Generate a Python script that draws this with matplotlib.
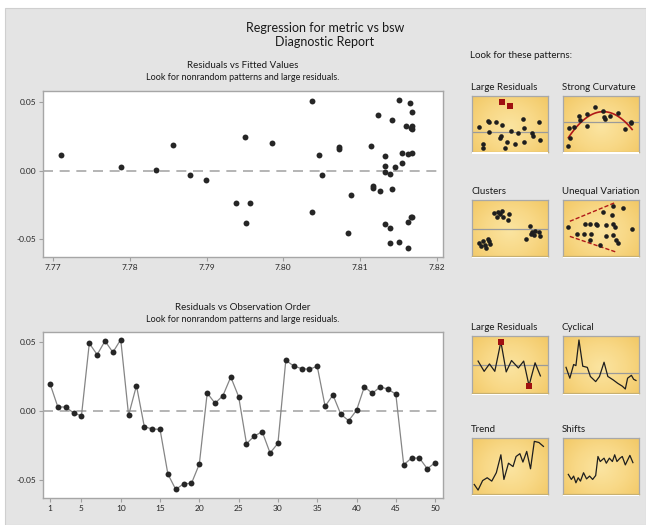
import numpy as np
import matplotlib
matplotlib.use("Agg")
import matplotlib.pyplot as plt
from matplotlib.colors import LinearSegmentedColormap
from matplotlib.patches import Rectangle

plt.rcParams['font.family'] = ['Lato', 'DejaVu Sans']

# ---- residuals in observation order ----
order = list(range(1, 51))
residuals = [0.0198, 0.0029, 0.0029, -0.0014, -0.0036, 0.0490, 0.0408, 0.0507, 0.0425, 0.0517,
             -0.0031, 0.0184, -0.0114, -0.0130, -0.0133, -0.0457, -0.0568, -0.0527, -0.0524, -0.0384,
             0.0130, 0.0056, 0.0111, 0.0246, 0.0104, -0.0237, -0.0181, -0.0150, -0.0304, -0.0234,
             0.0367, 0.0326, 0.0307, 0.0302, 0.0324, 0.0034, 0.0116, -0.0024, -0.0070, 0.0005,
             0.0176, 0.0128, 0.0174, 0.0159, 0.0121, -0.0389, -0.0341, -0.0341, -0.0418, -0.0374]
fitted = [7.7985, 7.7788, 7.8145, 7.8132, 7.7878, 7.8165, 7.8123, 7.8038, 7.8167, 7.8151,
          7.8051, 7.7856, 7.8117, 7.8117, 7.8141, 7.8084, 7.8163, 7.8139, 7.8151, 7.7951,
          7.8167, 7.8155, 7.7711, 7.7950, 7.8132, 7.7938, 7.8088, 7.8126, 7.8038, 7.7957,
          7.8141, 7.8160, 7.8166, 7.8168, 7.8167, 7.8132, 7.8047, 7.8139, 7.7899, 7.7834,
          7.8114, 7.8155, 7.8072, 7.8072, 7.8163, 7.8132, 7.8167, 7.8166, 7.8139, 7.8163]

fit_ticks = [7.77, 7.78, 7.79, 7.80, 7.81, 7.82]
fit_labels = ["7.77", "7.78", "7.79", "7.80", "7.81", "7.82"]
res_ticks = [-0.05, 0.0, 0.05]
res_labels = ["-0.05", "0.00", "0.05"]
order_ticks = [1, 5, 10, 15, 20, 25, 30, 35, 40, 45, 50]

# ---- example pattern thumbnails (unit coordinates) ----
lr_x = [0.09, 0.21, 0.23, 0.31, 0.40, 0.67, 0.88, 0.23, 0.51, 0.61, 0.68, 0.79, 0.80, 0.38, 0.37,
        0.15, 0.15, 0.46, 0.44, 0.56, 0.68, 0.90]
lr_y = [0.44, 0.56, 0.53, 0.53, 0.48, 0.59, 0.53, 0.35, 0.37, 0.34, 0.42, 0.34, 0.28, 0.29, 0.25,
        0.15, 0.07, 0.17, 0.07, 0.15, 0.17, 0.22]
lr_out_x = [0.39, 0.50]
lr_out_y = [0.89, 0.83]

sc_x = [0.07, 0.09, 0.08, 0.14, 0.21, 0.23, 0.31, 0.32, 0.42, 0.52, 0.54, 0.55, 0.62, 0.72, 0.82,
        0.89, 0.90]
sc_y = [0.11, 0.25, 0.43, 0.44, 0.65, 0.57, 0.67, 0.46, 0.80, 0.74, 0.63, 0.59, 0.65, 0.70, 0.41,
        0.54, 0.51]
sc_curve = (-2.2, 0.53, 0.72)   # a*(u-h)^2 + k

cl_x = [0.29, 0.34, 0.39, 0.33, 0.41, 0.49, 0.48, 0.37,
        0.09, 0.14, 0.17, 0.21, 0.24, 0.12, 0.19, 0.22,
        0.76, 0.79, 0.83, 0.88, 0.81, 0.89, 0.71, 0.77]
cl_y = [0.76, 0.79, 0.80, 0.70, 0.70, 0.75, 0.65, 0.75,
        0.24, 0.26, 0.20, 0.30, 0.21, 0.18, 0.15, 0.26,
        0.53, 0.42, 0.45, 0.42, 0.37, 0.36, 0.30, 0.39]

uv_x = [0.07, 0.18, 0.27, 0.29, 0.36, 0.37, 0.44, 0.45, 0.56, 0.56, 0.52, 0.64, 0.66, 0.66, 0.68,
        0.70, 0.72, 0.79, 0.91, 0.49, 0.36, 0.66]
uv_y = [0.51, 0.40, 0.40, 0.57, 0.57, 0.40, 0.58, 0.55, 0.55, 0.35, 0.79, 0.73, 0.58, 0.38, 0.52,
        0.29, 0.23, 0.85, 0.49, 0.20, 0.29, 0.90]
uv_upper = ([0.09, 0.68], [0.62, 0.95])
uv_lower = ([0.09, 0.70], [0.35, 0.07])

ts_lr_x = [0.08, 0.16, 0.23, 0.30, 0.38, 0.45, 0.52, 0.61, 0.68, 0.75, 0.83, 0.90]
ts_lr_y = [0.56, 0.38, 0.51, 0.38, 0.90, 0.37, 0.57, 0.44, 0.56, 0.13, 0.53, 0.30]
ts_lr_flag = [4, 9]

cy_x = [0.04, 0.09, 0.14, 0.17, 0.21, 0.26, 0.32, 0.36, 0.43, 0.48, 0.54, 0.59, 0.66, 0.72, 0.78,
        0.82, 0.85, 0.90, 0.93, 0.96]
cy_y = [0.45, 0.26, 0.50, 0.48, 0.93, 0.47, 0.45, 0.29, 0.20, 0.29, 0.54, 0.29, 0.23, 0.17, 0.12,
        0.07, 0.26, 0.31, 0.24, 0.22]

tr_x = [0.03, 0.08, 0.14, 0.20, 0.26, 0.32, 0.38, 0.42, 0.48, 0.54, 0.58, 0.63, 0.67, 0.72, 0.77,
        0.82, 0.88, 0.94]
tr_y = [0.17, 0.07, 0.24, 0.29, 0.23, 0.38, 0.70, 0.26, 0.55, 0.49, 0.67, 0.72, 0.57, 0.76, 0.45,
        0.94, 0.92, 0.85]

sh_x = [0.07, 0.11, 0.14, 0.17, 0.20, 0.23, 0.27, 0.31, 0.35, 0.39, 0.43, 0.46, 0.49, 0.54, 0.57,
        0.61, 0.65, 0.68, 0.71, 0.75, 0.78, 0.82, 0.88, 0.92]
sh_y = [0.35, 0.26, 0.32, 0.20, 0.29, 0.23, 0.38, 0.27, 0.32, 0.26, 0.33, 0.67, 0.58, 0.64, 0.55,
        0.64, 0.58, 0.70, 0.58, 0.64, 0.67, 0.52, 0.69, 0.56]

# ---- figure layout in pixels ----
W, H = 646, 525
fig = plt.figure(figsize=(W / 100, H / 100), dpi=100, facecolor="white")
PANEL = "#e4e4e4"
TXT = "#1a1a1a"
fig.patches.append(Rectangle((5 / W, 0), 1 - 5 / W, 1 - 8 / H, transform=fig.transFigure,
                             facecolor=PANEL, edgecolor="#cfcfcf", lw=0.8, zorder=-10))


def px_axes(x0, y0, w, h):
    return fig.add_axes([x0 / W, 1 - (y0 + h) / H, w / W, h / H])


def fig_text(x, y, s, size, **kw):
    fig.text(x / W, 1 - y / H, s, fontsize=size, color=TXT, va="center", **kw)


fig_text(325, 28, "Regression for metric vs bsw", 9, ha="center")
fig_text(325, 42, "Diagnostic Report", 9, ha="center")
fig_text(470, 55, "Look for these patterns:", 7, ha="left")

fig_text(243, 66, "Residuals vs Fitted Values", 7, ha="center")
fig_text(243, 78, "Look for nonrandom patterns and large residuals.", 6.5, ha="center")
fig_text(243, 307, "Residuals vs Observation Order", 7, ha="center")
fig_text(243, 319, "Look for nonrandom patterns and large residuals.", 6.5, ha="center")


def style_main(ax):
    ax.set_facecolor("white")
    for sp in ax.spines.values():
        sp.set_color("#a6a6a6")
        sp.set_linewidth(1.0)
    ax.tick_params(length=3, width=0.8, color="#a0a0a0", labelsize=6, labelcolor="#262626", pad=2)
    ax.axhline(0, color="#a8a8a8", lw=1.2, dashes=(6, 4), zorder=1)
    ax.set_yticks(res_ticks)
    ax.set_yticklabels(res_labels)


# residuals vs fitted
ax1 = px_axes(43, 91, 400, 166)
style_main(ax1)
ax1.scatter(fitted, residuals, s=18, color="#262626", marker="o", zorder=3, linewidths=0)
ax1.set_xlim(7.7687, 7.8208)
ax1.set_ylim(-0.0631, 0.058)
ax1.set_xticks(fit_ticks)
ax1.set_xticklabels(fit_labels)

# residuals vs order
ax2 = px_axes(43, 332, 400, 166)
style_main(ax2)
ax2.plot(order, residuals, color="#858585", lw=0.9, zorder=2)
ax2.scatter(order, residuals, s=18, color="#262626", marker="o", zorder=3, linewidths=0)
ax2.set_xlim(0.11, 51.0)
ax2.set_ylim(-0.063, 0.0572)
ax2.set_xticks(order_ticks)

# thumbnails
gold = LinearSegmentedColormap.from_list("gold", ["#fbe4a0", "#f8d886", "#f2c865"])
gy, gx = np.mgrid[0:1:60j, 0:1:80j]
grad = np.sqrt(((gx - 0.5) / 0.75) ** 2 + ((gy - 0.45) / 0.9) ** 2)


def thumb(x0, y0, title, h=56):
    fig_text(x0 - 1, y0 - 9, title, 7, ha="left")
    ax = px_axes(x0, y0, 76, h)
    ax.imshow(grad, cmap=gold, extent=[0, 1, 0, 1], origin="lower", aspect="auto", zorder=0)
    ax.set_xlim(0, 1)
    ax.set_ylim(0, 1)
    ax.set_xticks([])
    ax.set_yticks([])
    for sp in ax.spines.values():
        sp.set_color("#a8a8a8")
        sp.set_linewidth(0.9)
    ax.spines["bottom"].set_color("#c8b070")
    fig.patches.append(Rectangle((x0 / W, 1 - (y0 + h + 2) / H), 76 / W, 1.5 / H,
                                 transform=fig.transFigure, facecolor="white",
                                 edgecolor="none", zorder=5))
    return ax


DOT = dict(s=11, color="#1e1e1e", linewidths=0, zorder=3)
REF = dict(color="#9a9a9a", lw=0.9, zorder=2)

a = thumb(472, 96, "Large Residuals")
a.axhline(0.355, **REF)
a.scatter(lr_x, lr_y, **DOT)
a.scatter(lr_out_x, lr_out_y, s=13, marker="s", color="#a01010", linewidths=0, zorder=3)

a = thumb(563, 96, "Strong Curvature")
a.axhline(0.53, **REF)
cu = np.linspace(0.07, 0.91, 60)
ca, ch, ck = sc_curve
a.plot(cu, ca * (cu - ch) ** 2 + ck, color="#b01818", lw=1.2, zorder=2.5)
a.scatter(sc_x, sc_y, **DOT)

a = thumb(472, 200, "Clusters")
a.axhline(0.48, **REF)
a.scatter(cl_x, cl_y, **DOT)

a = thumb(563, 200, "Unequal Variation")
a.plot(*uv_upper, color="#b01818", lw=1.0, dashes=(3, 1.5), zorder=2)
a.plot(*uv_lower, color="#b01818", lw=1.0, dashes=(3, 1.5), zorder=2)
a.scatter(uv_x, uv_y, **DOT)

a = thumb(472, 336, "Large Residuals", h=57)
a.axhline(0.49, **REF)
a.plot(ts_lr_x, ts_lr_y, color="#1e1e1e", lw=0.9, zorder=3)
a.scatter([ts_lr_x[i] for i in ts_lr_flag], [ts_lr_y[i] for i in ts_lr_flag],
          s=13, marker="s", color="#a01010", linewidths=0, zorder=4)

a = thumb(563, 336, "Cyclical", h=57)
a.axhline(0.35, **REF)
a.plot(cy_x, cy_y, color="#1e1e1e", lw=0.9, zorder=3)

a = thumb(472, 438, "Trend")
a.plot(tr_x, tr_y, color="#1e1e1e", lw=0.9, zorder=3)

a = thumb(563, 438, "Shifts")
a.plot(sh_x, sh_y, color="#1e1e1e", lw=0.9, zorder=3)

fig.savefig("out.png", dpi=100, facecolor="white")
